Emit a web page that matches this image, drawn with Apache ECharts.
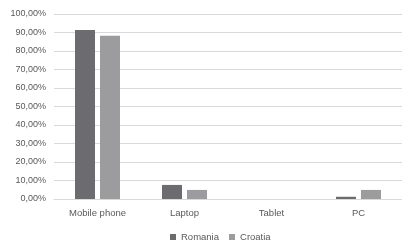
<!DOCTYPE html>
<html>
<head>
<meta charset="utf-8">
<script src="https://cdn.jsdelivr.net/npm/echarts@6/dist/echarts.min.js"></script>
<style>
  html, body { margin: 0; padding: 0; background: #fff; }
  #chart { width: 402px; height: 244px; }
</style>
</head>
<body>
<div id="chart"></div>
<script>
var categories = ['Mobile phone', 'Laptop', 'Tablet', 'PC'];
var romania = [91.4, 7.6, 0, 1.2];
var croatia = [88.3, 4.9, 0, 4.9];
var yTicks = [0, 10, 20, 30, 40, 50, 60, 70, 80, 90, 100];

var myChart = echarts.init(document.getElementById('chart'));
var font = 'Liberation Sans';

var option = {
    animation: false,
    textStyle: { fontFamily: font },
    legend: {
        data: ['Romania', 'Croatia'],
        top: 227,
        left: 165,
        itemWidth: 6,
        itemHeight: 6,
        itemGap: 10,
        icon: 'rect',
        textStyle: { color: '#595959', fontSize: 9.5, fontFamily: font }
    },
    grid: {
        left: 54,
        right: -8,
        top: 14,
        bottom: 45
    },
    xAxis: {
        type: 'category',
        data: categories,
        axisTick: { show: false },
        axisLine: { lineStyle: { color: '#d9d9d9' } },
        axisLabel: { color: '#595959', fontSize: 9.5, margin: 9 }
    },
    yAxis: {
        type: 'value',
        min: yTicks[0],
        max: yTicks[yTicks.length - 1],
        interval: 10,
        axisLine: { show: false },
        axisTick: { show: false },
        splitLine: { lineStyle: { color: '#d9d9d9', width: 1 } },
        axisLabel: {
            color: '#595959',
            fontSize: 9,
            margin: 8,
            formatter: function (v) { return v.toFixed(2).replace('.', ',') + '%'; }
        }
    },
    series: [
        {
            name: 'Romania',
            type: 'bar',
            data: romania,
            barWidth: 20,
            barGap: '25%',
            itemStyle: { color: '#6b6b70' }
        },
        {
            name: 'Croatia',
            type: 'bar',
            data: croatia,
            barWidth: 20,
            itemStyle: { color: '#9c9c9e' }
        }
    ]
};
myChart.setOption(option);
</script>
</body>
</html>
